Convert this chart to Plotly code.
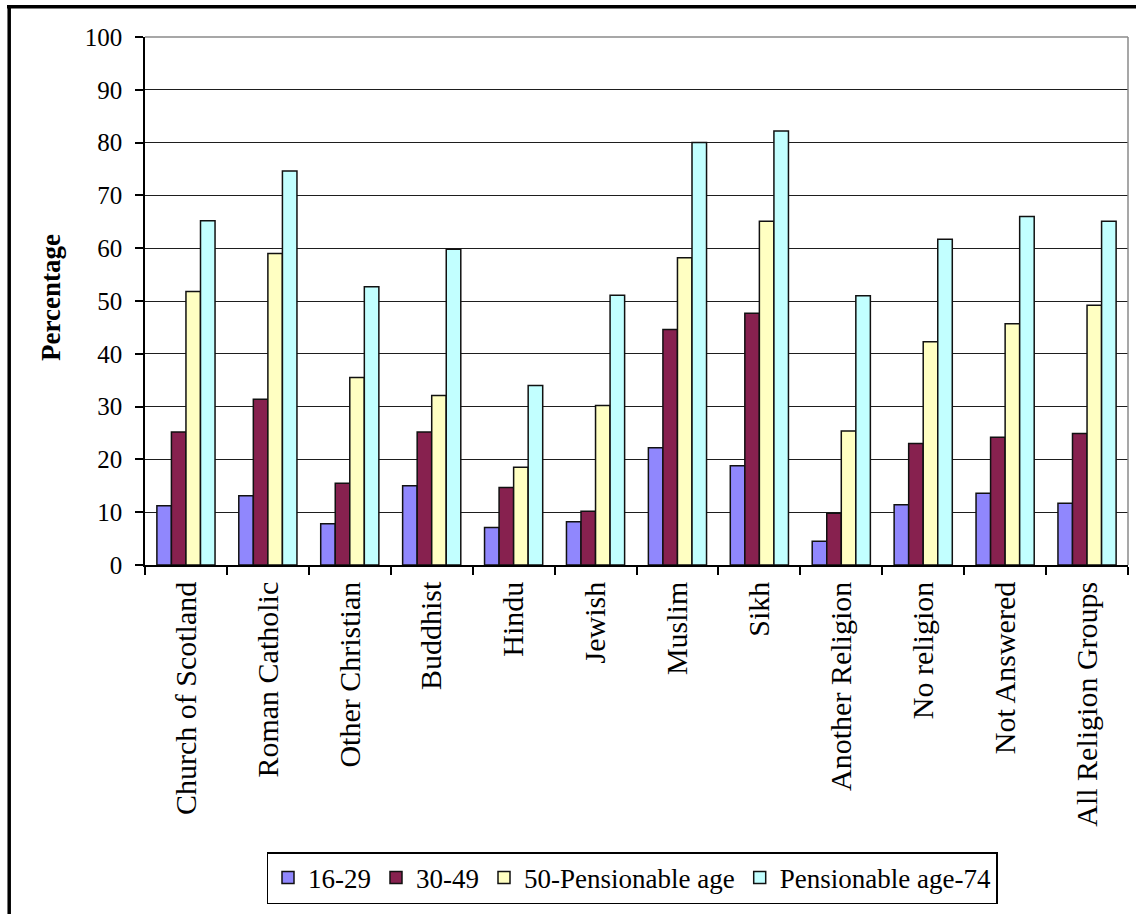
import plotly.graph_objects as go

# Religion groups (x categories)
religions = [
    "Church of Scotland", "Roman Catholic", "Other Christian", "Buddhist",
    "Hindu", "Jewish", "Muslim", "Sikh", "Another Religion", "No religion",
    "Not Answered", "All Religion Groups",
]

# Percentage by age band
age_16_29 = [11.2, 13.1, 7.8, 15.0, 7.1, 8.2, 22.2, 18.8, 4.5, 11.4, 13.6, 11.7]
age_30_49 = [25.2, 31.4, 15.5, 25.2, 14.7, 10.2, 44.6, 47.7, 9.8, 23.0, 24.2, 24.9]
age_50_pens = [51.8, 59.0, 35.5, 32.1, 18.5, 30.2, 58.2, 65.1, 25.4, 42.3, 45.7, 49.2]
age_pens_74 = [65.2, 74.6, 52.7, 59.8, 34.0, 51.1, 80.0, 82.2, 51.0, 61.7, 66.0, 65.1]

series_names = ["16-29", "30-49", "50-Pensionable age", "Pensionable age-74"]
series_values = [age_16_29, age_30_49, age_50_pens, age_pens_74]
series_colors = ["#9087fd", "#87214f", "#ffffc2", "#c2ffff"]

y_ticks = list(range(0, 101, 10))

FONT = "Liberation Serif, serif"

fig = go.Figure()
for name, vals, col in zip(series_names, series_values, series_colors):
    fig.add_trace(go.Bar(
        x=religions, y=vals, name=name,
        marker=dict(color=col, line=dict(color="#111111", width=1.5)),
    ))

# plot area geometry in pixels (used for the decorative frame lines)
L, R, T, B = 145, 8, 37, 349
W, H = 1136, 914
pw, ph = W - L - R, H - T - B


def px(xp):
    return (xp - L) / pw


def py(yp):
    return (H - B - yp) / ph


shapes = [
    # grey plot-area border on top and right
    dict(type="line", xref="paper", yref="paper", x0=0, x1=1, y0=1, y1=1,
         line=dict(color="#8a8a8a", width=1.5), layer="above"),
    dict(type="line", xref="paper", yref="paper", x0=1, x1=1, y0=0, y1=1,
         line=dict(color="#8a8a8a", width=1.5), layer="above"),
    # heavy outer frame, top and left
    dict(type="line", xref="paper", yref="paper", x0=px(7), x1=px(W + 2),
         y0=py(6.7), y1=py(6.7), line=dict(color="black", width=3.5)),
    dict(type="line", xref="paper", yref="paper", x0=px(9.2), x1=px(9.2),
         y0=py(5), y1=py(H + 2), line=dict(color="black", width=3.5)),
]

fig.update_layout(
    width=W, height=H,
    margin=dict(l=L, r=R, t=T, b=B, autoexpand=False),
    paper_bgcolor="white", plot_bgcolor="white",
    barmode="group", bargap=0.29, bargroupgap=0,
    font=dict(family=FONT, color="black"),
    showlegend=True,
    legend=dict(
        orientation="h", x=px(632), xanchor="center", y=py(852), yanchor="top",
        bordercolor="black", borderwidth=1.5, bgcolor="white",
        font=dict(family=FONT, size=27, color="black"),
        itemwidth=30, tracegroupgap=0,
    ),
    shapes=shapes,
    annotations=[dict(
        text="<b>Percentage</b>", xref="paper", yref="paper",
        x=px(51), y=py(298), xanchor="center", yanchor="middle",
        textangle=-90, showarrow=False,
        font=dict(family=FONT, size=27, color="black"),
    )],
)

fig.update_xaxes(
    type="category", showline=True, linecolor="black", linewidth=1.5,
    ticks="outside", tickson="boundaries", ticklen=8, tickwidth=1.5,
    tickcolor="black", tickangle=-90, showgrid=False,
    tickfont=dict(family=FONT, size=30, color="black"),
    ticklabelstandoff=3,
)
fig.update_yaxes(
    range=[0, 100], tickvals=y_ticks, showline=True, linecolor="black",
    linewidth=1.5, ticks="outside", ticklen=8, tickwidth=1.5, tickcolor="black",
    showgrid=True, gridcolor="#1e1e1e", gridwidth=1.4, zeroline=False,
    tickfont=dict(family=FONT, size=25, color="black"),
    ticklabelstandoff=8,
)

fig.write_html("out.html")
